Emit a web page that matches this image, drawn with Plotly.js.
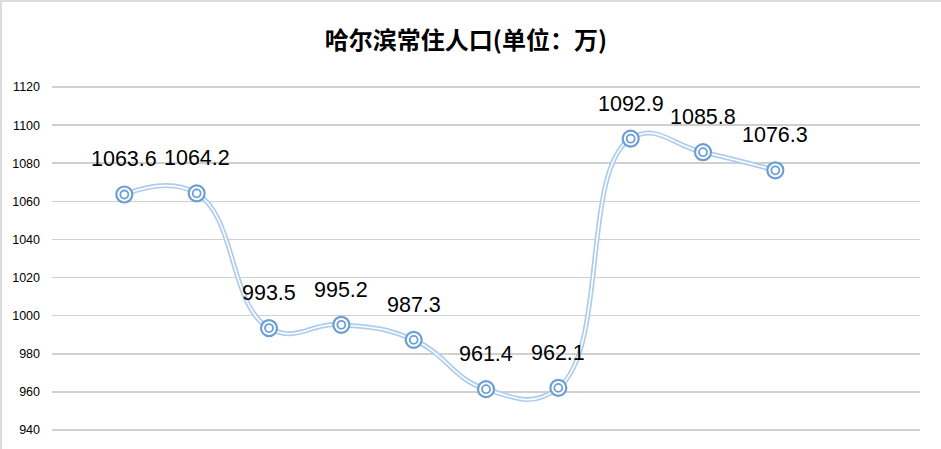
<!DOCTYPE html>
<html>
<head>
<meta charset="utf-8">
<script src="https://cdn.plot.ly/plotly-3.0.1.min.js"></script>
<style>
  html, body { margin: 0; padding: 0; background: #fff; }
  #graph { width: 941px; height: 449px; box-sizing: border-box;
           border-top: 2px solid #dcdcdc; border-left: 2px solid #dcdcdc; }
</style>
</head>
<body>
<div id="graph"></div>
<script>
// Harbin resident population, in units of 10k people.
// The x axis carries no labels in the picture, so points are just numbered 1..10.
const positions = [1, 2, 3, 4, 5, 6, 7, 8, 9, 10];
const population = [1063.6, 1064.2, 993.5, 995.2, 987.3, 961.4, 962.1, 1092.9, 1085.8, 1076.3];
const yTicks = [940, 960, 980, 1000, 1020, 1040, 1060, 1080, 1100, 1120];

const lineBlue = '#aecdec';
const markBlue = '#6b9fd4';

// double line look: a wide light blue stroke with a thin white stroke on top
const outerLine = {
    x: positions, y: population,
    mode: 'lines',
    line: { shape: 'spline', smoothing: 1.3, width: 5, color: lineBlue },
    hoverinfo: 'skip', showlegend: false
};
const innerLine = {
    x: positions, y: population,
    mode: 'lines',
    line: { shape: 'spline', smoothing: 1.3, width: 1.6, color: '#ffffff' },
    hoverinfo: 'skip', showlegend: false
};

// ringed markers: a big open circle plus a small one inside
const outerRing = {
    x: positions, y: population,
    mode: 'markers',
    marker: { symbol: 'circle', size: 16, color: '#ffffff', line: { width: 2.2, color: markBlue } },
    showlegend: false
};
const innerRing = {
    x: positions, y: population,
    mode: 'markers',
    marker: { symbol: 'circle-open', size: 8, color: markBlue, line: { width: 1.8, color: markBlue } },
    hoverinfo: 'skip', showlegend: false
};

// value labels sitting above each point
const labels = positions.map((p, i) => ({
    x: p, y: population[i],
    text: String(population[i]),
    showarrow: false,
    yshift: 35,
    font: { family: 'Liberation Sans, Arial, sans-serif', size: 21.5, color: '#000' }
}));

const layout = {
    width: 941, height: 449,
    margin: { l: 50, r: 23, t: 66, b: 2, pad: 0 },
    paper_bgcolor: '#fff', plot_bgcolor: '#fff',
    title: {
        text: '<b>哈尔滨常住人口(单位：万)</b>',
        x: 0.493, xanchor: 'center', y: 0.915, yanchor: 'middle',
        font: { family: 'Noto Sans CJK SC, sans-serif', size: 24, color: '#000' }
    },
    xaxis: {
        range: [0, 12],
        showgrid: false, zeroline: false, showline: false,
        showticklabels: false, ticks: ''
    },
    yaxis: {
        range: [930, 1130],
        tickvals: yTicks,
        ticktext: yTicks.map(String),
        showgrid: true, gridcolor: '#d0d0d0', gridwidth: 1.6,
        zeroline: false, showline: false, ticks: '',
        ticklabelstandoff: 11,
        tickfont: { family: 'Liberation Sans, Arial, sans-serif', size: 12.5, color: '#000' }
    },
    annotations: labels
};

Plotly.newPlot('graph', [outerLine, innerLine, outerRing, innerRing], layout, { displayModeBar: false, staticPlot: true });
</script>
</body>
</html>
